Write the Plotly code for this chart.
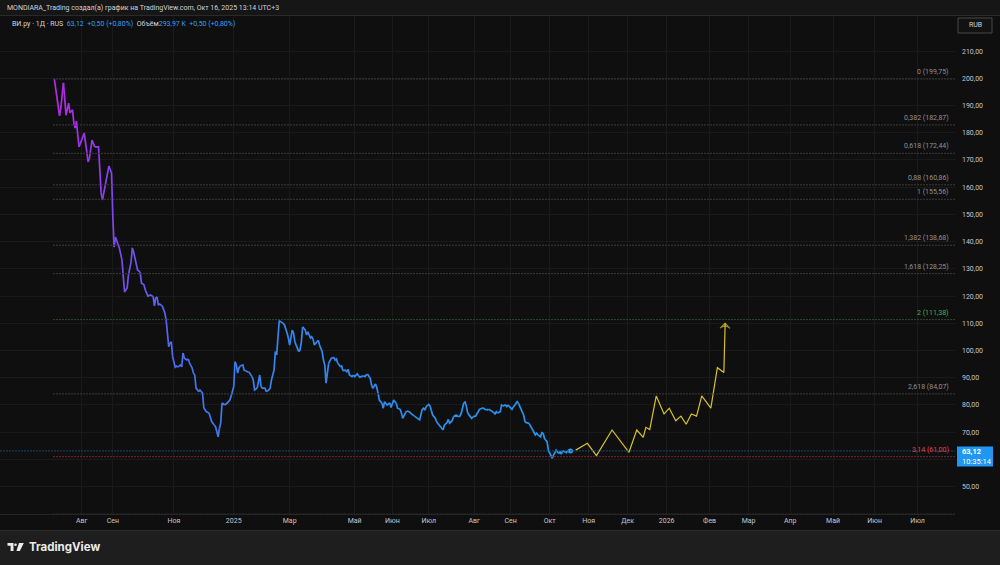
import plotly.graph_objects as go

# ---------------- data ----------------
price_idx = [1, 5, 6, 8, 10, 12, 13, 15, 16, 17, 18, 19, 20, 23, 24, 27, 28, 30, 32, 35, 37, 38, 40, 42, 43, 45,
             46, 47, 48, 51, 53, 55, 57, 58, 60, 61, 62, 64, 65, 67, 68, 70, 71, 73, 75, 77, 78, 79, 80, 81, 82,
             84, 86, 87, 89, 90, 91, 92, 94, 95, 96, 98, 99, 100, 101, 103, 104, 105, 107, 108, 109, 110, 112,
             113, 115, 116, 117, 118, 120, 121, 122, 124, 125, 127, 128, 129, 130, 132, 134, 136, 137, 139, 140,
             141, 142, 143, 144, 146, 147, 148, 150, 151, 153, 154, 155, 157, 158, 159, 160, 161, 163, 164, 166,
             167, 168, 170, 171, 172, 174, 175, 177, 178, 180, 181, 182, 184, 185, 186, 187, 189, 190, 191, 192,
             194, 195, 196, 198, 199, 200, 201, 203, 204, 205, 207, 208, 209, 210, 212, 213, 214, 216, 217, 218,
             219, 221, 222, 223, 225, 226, 227, 228, 230, 231, 232, 234, 235, 236, 237, 239, 240, 241, 242, 244,
             245, 246, 248, 249, 250, 251, 253, 254, 255, 257, 259, 260, 262, 264, 265, 267, 268, 269, 271, 272,
             274, 276, 278, 280, 282, 284, 285, 286, 287, 289, 290, 291, 292, 294, 295, 297, 299, 300, 301, 303,
             304, 305, 307, 308, 309, 310, 312, 313, 314, 316, 317, 318, 319, 321, 322, 323, 325, 326, 327, 328,
             330, 331, 332, 334, 335, 336, 337, 339, 340, 341, 342, 344, 345, 346, 348, 349, 350, 351, 353, 354,
             355, 357, 358, 359, 360, 362, 363, 364, 366, 367, 368, 369, 371, 372, 373, 375, 376, 377, 378, 380,
             381, 382, 384, 385, 386, 387, 389, 390, 391, 392, 394, 395, 396, 398]
price_val = [199.7, 186.2, 189.1, 198.3, 186.5, 190.9, 187.3, 188.4, 183.6, 181.7, 184.3, 179.2, 174.8, 178.4,
             179.9, 169.3, 170.7, 177.3, 174.8, 174.8, 157.9, 155.3, 160.1, 164.5, 167.8, 165.2, 149.0, 138.0,
             141.7, 137.7, 133.3, 121.5, 123.0, 127.7, 132.5, 137.7, 136.2, 132.5, 129.6, 128.8, 124.8, 124.1,
             122.2, 120.0, 120.4, 119.8, 116.4, 119.3, 119.7, 116.7, 117.1, 116.4, 113.8, 111.2, 101.4, 102.8,
             103.2, 97.7, 93.9, 94.3, 93.9, 94.7, 94.0, 99.1, 97.2, 96.5, 96.9, 95.4, 93.6, 91.7, 91.0, 86.2,
             84.9, 85.5, 84.4, 78.9, 78.1, 77.5, 77.0, 75.7, 73.9, 72.6, 72.0, 68.3, 71.4, 73.4, 80.7, 80.0,
             80.7, 81.8, 83.3, 86.7, 95.9, 94.7, 91.7, 93.6, 94.3, 94.7, 92.8, 92.6, 92.2, 91.9, 90.4, 89.2,
             85.5, 86.2, 89.2, 91.0, 86.7, 86.2, 86.2, 84.9, 85.5, 86.2, 89.2, 92.8, 99.6, 98.4, 111.0, 110.6,
             110.0, 109.4, 106.4, 104.6, 102.0, 107.5, 106.4, 103.2, 102.0, 99.6, 100.2, 103.2, 108.7, 107.5,
             105.7, 106.9, 104.6, 105.1, 104.2, 102.0, 103.2, 103.8, 102.0, 99.6, 96.5, 94.7, 88.0, 95.3, 96.5,
             97.1, 97.5, 96.5, 96.9, 95.3, 94.1, 94.3, 92.6, 92.8, 92.2, 93.1, 91.0, 90.4, 91.0, 90.4, 91.4,
             90.7, 90.2, 90.4, 90.7, 90.4, 91.0, 91.3, 89.8, 87.3, 86.1, 87.7, 86.5, 84.3, 81.8, 80.6, 78.8,
             81.2, 80.0, 80.8, 79.1, 81.8, 80.6, 78.8, 78.4, 77.0, 75.1, 77.0, 77.8, 77.5, 76.6, 75.9, 75.1,
             74.5, 78.4, 78.8, 78.1, 79.4, 80.2, 79.6, 77.9, 76.3, 75.1, 73.8, 72.6, 71.8, 70.8, 72.6, 73.5,
             74.7, 73.3, 74.2, 75.7, 75.9, 76.3, 75.7, 75.9, 77.0, 80.8, 81.1, 79.4, 77.0, 75.7, 75.1, 75.7,
             75.9, 76.7, 77.5, 78.4, 78.8, 79.0, 78.4, 78.2, 78.4, 78.2, 77.9, 77.2, 76.7, 77.5, 77.0, 77.5,
             80.0, 79.6, 80.0, 79.4, 80.0, 79.4, 78.4, 79.2, 80.0, 81.2, 80.6, 79.4, 78.8, 76.3, 73.9, 73.5,
             73.3, 72.3, 71.4, 70.8, 69.0, 69.6, 69.0, 68.3, 69.8, 69.6, 67.7, 66.5, 63.4, 62.2, 60.4, 61.6,
             62.8, 63.4, 62.2, 62.8, 61.9, 63.2, 62.8, 62.5, 63.4, 63.12]

proj_idx = [402, 411, 418, 430, 443, 449, 454, 456, 459, 464, 470, 474, 479, 483, 487, 491, 495, 499, 506,
            511, 516, 517]
proj_val = [63.4, 65.9, 61.4, 70.8, 62.6, 70.8, 68.1, 71.8, 71.0, 83.3, 76.7, 78.8, 74.2, 75.9, 72.9, 76.7,
            75.9, 83.3, 78.8, 93.7, 91.9, 110.0]

fib_ratio = ["0", "0,382", "0,618", "0,88", "1", "1,382", "1,618", "2", "2,618", "3,14", "3,618"]
fib_price = [199.75, 182.87, 172.44, 160.86, 155.56, 138.68, 128.25, 111.38, 84.07, 61.00, 39.88]

tick_idx = [22, 46, 93, 139, 182, 232, 261, 289, 324, 352, 382, 412, 442, 472, 505, 535, 567, 600, 632, 665]
tick_txt = ["Авг", "Сен", "Ноя", "2025", "Мар", "Май", "Июн", "Июл", "Авг", "Сен",
            "Окт", "Ноя", "Дек", "2026", "Фев", "Мар", "Апр", "Май", "Июн", "Июл"]

y_ticks = [50, 60, 70, 80, 90, 100, 110, 120, 130, 140, 150, 160, 170, 180, 190, 200, 210]

last_price = 63.12
countdown = "10:35:14"
title_text = "MONDIARA_Trading создал(а) график на TradingView.com, Окт 16, 2025 13:14 UTC+3"

# ---------------- helpers ----------------
def ru(v):
    return f"{v:.2f}".replace(".", ",")

FONT = "Roboto"
FS = 7
X_RANGE = [-40.8, 693.8]
Y_RANGE = [39.94, 223.26]
PLOT_W, PLOT_H = 955.0, 499.0   # plot area in px
BOTTOM = 514.0                  # px of plot bottom


def px(xp):
    return xp / PLOT_W


def py(yp):
    return (BOTTOM - yp) / PLOT_H


grad_stops = [(0, (184, 40, 226)), (30, (150, 56, 238)), (60, (112, 82, 240)), (100, (72, 112, 236)),
              (160, (54, 132, 236)), (398, (36, 152, 240))]


def grad(i):
    for (a, ca), (b, cb) in zip(grad_stops[:-1], grad_stops[1:]):
        if i <= b:
            t = (i - a) / (b - a)
            c = [round(ca[k] + (cb[k] - ca[k]) * t) for k in range(3)]
            return f"rgb({c[0]},{c[1]},{c[2]})"
    c = grad_stops[-1][1]
    return f"rgb({c[0]},{c[1]},{c[2]})"


fig = go.Figure()

# gradient price line in short segments
step = 3
n = len(price_idx)
for s in range(0, n - 1, step):
    e = min(s + step, n - 1)
    xs = price_idx[s:e + 1]
    ys = price_val[s:e + 1]
    mid = (xs[0] + xs[-1]) / 2
    fig.add_trace(go.Scatter(x=xs, y=ys, mode="lines", line=dict(color=grad(mid), width=1.7),
                             hoverinfo="skip", showlegend=False))

# last price dot
fig.add_trace(go.Scatter(x=[price_idx[-1]], y=[price_val[-1]], mode="markers",
                         marker=dict(color="#2aa0f5", size=5), hoverinfo="skip", showlegend=False))

# projection (yellow) with arrow head
sym = ["circle"] * (len(proj_idx) - 1) + ["arrow-wide-open"]
size = [0] * (len(proj_idx) - 1) + [7]
fig.add_trace(go.Scatter(x=proj_idx, y=proj_val, mode="lines+markers",
                         line=dict(color="#d8c12c", width=1.2),
                         marker=dict(symbol=sym, size=size, angleref="previous",
                                     color="#d8c12c", line=dict(color="#d8c12c", width=1.2)),
                         hoverinfo="skip", showlegend=False))

shapes = []
annotations = []

# background strips
shapes.append(dict(type="rect", xref="paper", yref="paper", x0=-0.01, x1=1.06, y0=py(15), y1=py(-2),
                   fillcolor="#161616", line=dict(width=0), layer="below"))
shapes.append(dict(type="rect", xref="paper", yref="paper", x0=-0.01, x1=1.06, y0=py(567), y1=py(530),
                   fillcolor="#1e1e1e", line=dict(width=0), layer="below"))
shapes.append(dict(type="line", xref="paper", yref="paper", x0=-0.01, x1=1.06, y0=py(530.5), y1=py(530.5),
                   line=dict(color="#2c2c2c", width=1)))
shapes.append(dict(type="line", xref="paper", yref="paper", x0=-0.01, x1=1.06, y0=py(15.5), y1=py(15.5),
                   line=dict(color="#2a2a2a", width=1)))

# fibonacci levels
for r, p in zip(fib_ratio, fib_price):
    if r == "2":
        lc, tc = "#284a2b", "#4caf50"
    elif r == "3,14":
        lc, tc = "#7a262c", "#e0404a"
    else:
        lc, tc = "#3d3d3d", "#8f9196"
    shapes.append(dict(type="line", xref="x", yref="y", x0=0, x1=X_RANGE[1], y0=p, y1=p,
                       line=dict(color=lc, width=1, dash="2px,1px")))
    annotations.append(dict(xref="paper", yref="y", x=1, y=p, xanchor="right", yanchor="bottom",
                            xshift=-4, yshift=1, showarrow=False, text=f"{r} ({ru(p)})",
                            font=dict(family=FONT, size=FS, color=tc)))

# current price line
shapes.append(dict(type="line", xref="x", yref="y", x0=X_RANGE[0], x1=X_RANGE[1], y0=last_price, y1=last_price,
                   line=dict(color="#1b4670", width=1, dash="2px,1px")))

# price label on the axis
shapes.append(dict(type="rect", xref="paper", yref="paper", x0=px(957), x1=px(993), y0=py(466.5), y1=py(446.5),
                   fillcolor="#2196f3", line=dict(width=0)))
annotations.append(dict(xref="paper", yref="paper", x=px(960), y=py(451.5), xanchor="left", yanchor="middle",
                        showarrow=False, text=f"<b>{ru(last_price)}</b>",
                        font=dict(family=FONT, size=FS + 0.5, color="#ffffff")))
annotations.append(dict(xref="paper", yref="paper", x=px(960), y=py(461.5), xanchor="left", yanchor="middle",
                        showarrow=False, text=countdown,
                        font=dict(family=FONT, size=FS + 0.5, color="#ffffff")))

# header texts
annotations.append(dict(xref="paper", yref="paper", x=px(5), y=py(8), xanchor="left", yanchor="middle",
                        showarrow=False, text=title_text, font=dict(family=FONT, size=FS, color="#d1d4dc")))
blue = "#3a9fec"
legend_txt = (f"ВИ.ру · 1Д · RUS  <span style='color:{blue}'>{ru(last_price)}  +0,50 (+0,80%)</span>  "
              f"Объём<span style='color:{blue}'>293,97 K  +0,50 (+0,80%)</span>")
annotations.append(dict(xref="paper", yref="paper", x=px(10), y=py(24), xanchor="left", yanchor="middle",
                        showarrow=False, text=legend_txt, font=dict(family=FONT, size=FS, color="#d1d4dc")))

# RUB box
shapes.append(dict(type="rect", xref="paper", yref="paper", x0=px(958), x1=px(992), y0=py(33), y1=py(18),
                   fillcolor="#121212", line=dict(color="#484848", width=1)))
annotations.append(dict(xref="paper", yref="paper", x=px(975), y=py(25.5), xanchor="center", yanchor="middle",
                        showarrow=False, text="RUB", font=dict(family=FONT, size=FS, color="#d1d4dc")))

# TradingView logo
annotations.append(dict(xref="paper", yref="paper", x=px(27), y=py(547), xanchor="left", yanchor="middle",
                        showarrow=False, text="<b>TradingView</b>",
                        font=dict(family="Inter", size=11.5, color="#ececec")))


def path(points):
    return "M " + " L ".join(f"{px(a):.5f},{py(b):.5f}" for a, b in points) + " Z"


shapes.append(dict(type="path", xref="paper", yref="paper",
                   path=path([(7.5, 543), (13.5, 543), (13.5, 551), (10.6, 551), (10.6, 545.8), (7.5, 545.8)]),
                   fillcolor="#ececec", line=dict(width=0)))
shapes.append(dict(type="circle", xref="paper", yref="paper", x0=px(14.2), x1=px(16.8), y0=py(546), y1=py(543.4),
                   fillcolor="#ececec", line=dict(width=0)))
shapes.append(dict(type="path", xref="paper", yref="paper",
                   path=path([(19, 543), (23.8, 543), (19.8, 551), (16.4, 551)]),
                   fillcolor="#ececec", line=dict(width=0)))

fig.update_layout(
    width=1000, height=565,
    margin=dict(l=0, r=45, t=15, b=51),
    paper_bgcolor="#0f0f0f", plot_bgcolor="#0f0f0f",
    shapes=shapes, annotations=annotations,
    xaxis=dict(range=X_RANGE, tickvals=tick_idx, ticktext=tick_txt, showgrid=True, gridcolor="#1a1a1a",
               gridwidth=1, zeroline=False, showline=True, linecolor="#262626", ticks="",
               tickfont=dict(family=FONT, size=FS, color="#c4c6cc"), fixedrange=True),
    yaxis=dict(range=Y_RANGE, side="right", tickvals=y_ticks,
               ticktext=["" if v == 60 else ru(v) for v in y_ticks],
               showgrid=True, gridcolor="#1a1a1a", gridwidth=1, zeroline=False, ticks="",
               ticklabelstandoff=6,
               tickfont=dict(family=FONT, size=FS, color="#c4c6cc"), fixedrange=True),
    showlegend=False,
)

fig.write_html("out.html")
